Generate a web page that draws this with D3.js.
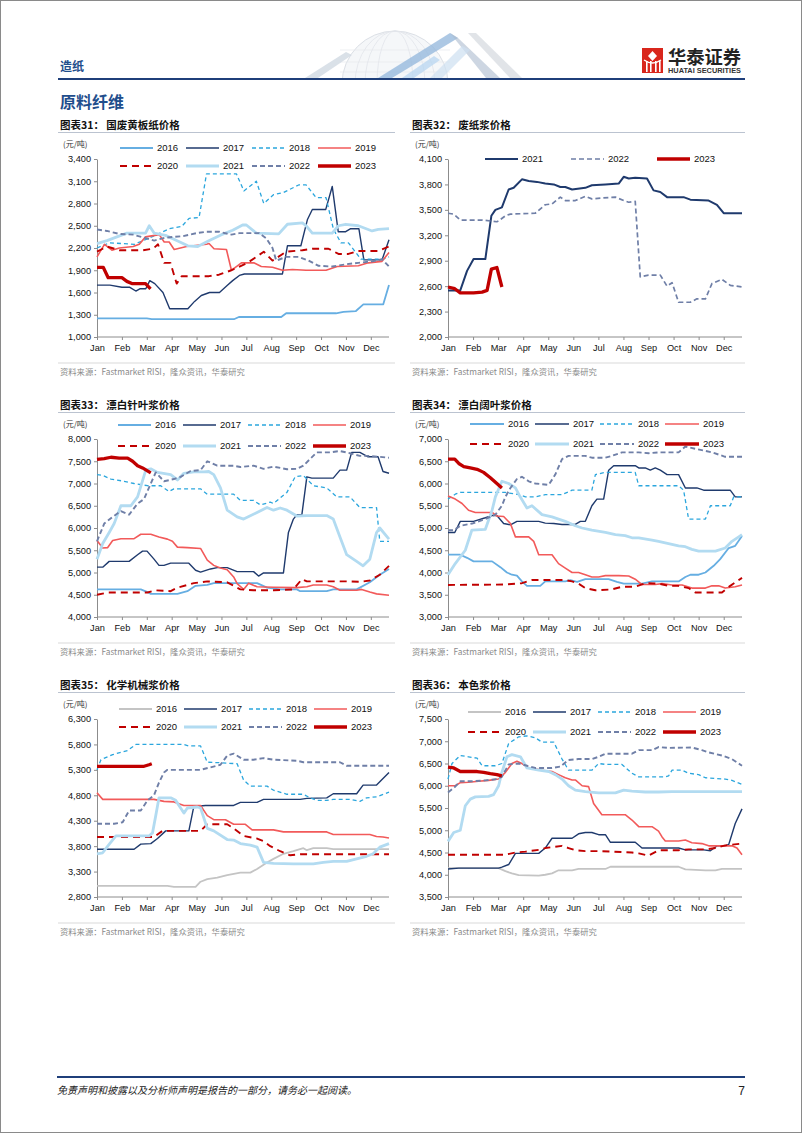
<!DOCTYPE html>
<html><head><meta charset="utf-8">
<script src="https://cdn.jsdelivr.net/npm/d3@7"></script>
<style>body{margin:0;background:#fff}svg{display:block}</style>
</head><body>
<svg id="page" width="802" height="1133"></svg>
<script>
// ---------------- DATA ----------------
const months = ["Jan","Feb","Mar","Apr","May","Jun","Jul","Aug","Sep","Oct","Nov","Dec"];
const years8 = ["2016","2017","2018","2019","2020","2021","2022","2023"];
const years3 = ["2021","2022","2023"];
const ticks31 = [1000,1300,1600,1900,2200,2500,2800,3100,3400];
const ticks32 = [2000,2300,2600,2900,3200,3500,3800,4100];
const ticks33 = [4000,4500,5000,5500,6000,6500,7000,7500,8000];
const ticks34 = [3000,3500,4000,4500,5000,5500,6000,6500,7000];
const ticks35 = [2800,3300,3800,4300,4800,5300,5800,6300];
const ticks36 = [3500,4000,4500,5000,5500,6000,6500,7000,7500];

// x = month position (0 = Jan), y = price (元/吨)
// 图表31 国废黄板纸
const c31_2016 = [[0,1250],[2,1250],[2.2,1240],[5.5,1240],[5.7,1270],[7.4,1270],[7.6,1320],[9.6,1320],[9.9,1340],[10.4,1350],[10.7,1440],[11.5,1440],[11.73,1700]];
const c31_2017 = [[0,1700],[0.52,1700],[1,1670],[1.32,1670],[1.56,1620],[1.72,1650],[1.96,1650],[2.12,1760],[2.32,1720],[2.65,1600],[2.92,1380],[3.65,1380],[3.92,1480],[4.19,1560],[4.52,1600],[4.92,1600],[5.25,1700],[5.45,1760],[5.72,1830],[5.92,1850],[7.45,1850],[7.65,2230],[8.19,2230],[8.45,2580],[8.65,2720],[9.19,2720],[9.45,3030],[9.69,2420],[9.99,2420],[10.19,2460],[10.52,2460],[10.72,2040],[11.45,2040],[11.73,2310]];
const c31_2018 = [[0,2200],[0.5,2270],[1.5,2250],[2,2320],[2.4,2380],[2.9,2460],[3.4,2490],[3.7,2600],[4.1,2610],[4.4,3200],[5.6,3200],[5.9,2970],[6.4,3100],[6.7,2800],[7.1,2920],[7.5,2950],[8.1,3050],[8.4,3050],[8.8,2880],[9.2,2880],[9.5,2450],[9.8,2270],[10.1,2270],[10.6,2050],[11.5,2050],[11.73,2080]];
const c31_2019 = [[0,2080],[0.3,2250],[0.6,2170],[0.9,2200],[1.45,2220],[1.7,2250],[1.95,2350],[2.5,2380],[2.7,2280],[2.9,2280],[3.1,2180],[3.6,2220],[4.4,2250],[4.5,2260],[4.7,2190],[5.2,2180],[5.4,1900],[5.6,1950],[5.8,2000],[6.3,2000],[6.6,1950],[7.05,1940],[7.45,1900],[7.85,1910],[8.4,1900],[9.2,1900],[9.65,1950],[10.5,1960],[10.9,2000],[11.45,2020],[11.73,2140]];
const c31_2020 = [[0,2150],[0.4,2220],[0.9,2170],[1.85,2170],[2.25,2190],[2.45,2250],[2.7,2000],[2.95,2000],[3.2,1720],[3.4,1820],[4.5,1820],[4.9,1840],[5.4,1900],[6.05,2000],[6.7,2150],[7.05,2030],[7.6,2150],[8.25,2170],[8.65,2190],[9.3,2190],[9.7,2120],[10.1,2120],[10.5,2160],[11.3,2160],[11.73,2220]];
const c31_2021 = [[0,2260],[0.4,2300],[1.2,2400],[1.95,2400],[2.1,2500],[2.3,2400],[2.75,2370],[3.2,2300],[3.65,2230],[4.05,2220],[4.45,2290],[5,2380],[5.45,2440],[5.85,2510],[6.0,2510],[6.4,2400],[7.3,2390],[7.65,2520],[8.25,2540],[8.4,2500],[8.65,2400],[9.45,2400],[9.7,2500],[9.99,2520],[10.5,2500],[11.05,2430],[11.3,2450],[11.73,2460]];
const c31_2022 = [[0,2450],[0.4,2430],[0.9,2390],[1.45,2380],[2,2330],[2.3,2300],[2.75,2340],[3.45,2360],[3.99,2400],[4.4,2420],[4.9,2420],[5.4,2380],[5.72,2400],[6.52,2400],[6.8,2330],[7.05,2200],[7.2,2030],[7.6,2080],[8.1,2080],[8.5,2030],[8.9,1960],[9.45,1950],[9.99,1980],[10.5,2000],[11.05,2020],[11.45,2050],[11.73,1950]];
const c31_2023 = [[0,1940],[0.25,1940],[0.45,1800],[1.0,1800],[1.2,1750],[1.4,1720],[1.95,1720],[2.15,1650]];

// 图表32 废纸浆
const c32_2021 = [[0,2550],[0.49,2550],[0.76,2780],[1.02,2920],[1.49,2920],[1.73,3430],[1.89,3500],[2.15,3530],[2.42,3740],[2.62,3760],[2.95,3860],[3.22,3840],[3.55,3830],[3.88,3810],[4.22,3800],[4.48,3770],[4.68,3770],[4.95,3740],[5.48,3760],[5.74,3790],[6.28,3800],[6.81,3810],[7.01,3890],[7.21,3870],[7.47,3880],[7.94,3870],[8.2,3730],[8.47,3710],[8.74,3650],[9.4,3650],[9.67,3620],[10.4,3610],[10.73,3560],[11,3460],[11.73,3460]];
const c32_2022 = [[0,3460],[0.23,3450],[0.49,3380],[1.36,3380],[1.95,3360],[2.02,3370],[2.29,3430],[2.49,3450],[3.48,3460],[3.88,3560],[4.15,3570],[4.48,3650],[4.68,3610],[5.08,3610],[5.48,3660],[5.74,3630],[6.14,3640],[6.68,3650],[7.01,3610],[7.21,3590],[7.47,3600],[7.67,2710],[8.0,2730],[8.47,2730],[8.74,2600],[8.94,2640],[9.2,2410],[9.67,2410],[9.93,2450],[10.27,2450],[10.53,2630],[10.93,2680],[11.26,2610],[11.73,2590]];
const c32_2023 = [[0,2590],[0.27,2570],[0.49,2520],[1.02,2520],[1.36,2530],[1.56,2550],[1.73,2800],[1.95,2820],[2.15,2590]];

// 图表33 漂白针叶浆
const c33_2016 = [[0,4620],[1.76,4620],[2.03,4560],[2.16,4520],[3.23,4520],[3.63,4580],[3.96,4700],[4.43,4720],[4.69,4760],[6.43,4760],[6.83,4660],[7.36,4620],[8.03,4620],[8.16,4580],[9.23,4580],[9.49,4620],[10.43,4620],[10.96,4780],[11.36,4950],[11.73,5080]];
const c33_2017 = [[0,5120],[0.23,5120],[0.49,5250],[1.29,5250],[1.63,5400],[1.83,5480],[2.01,5480],[2.29,5300],[2.49,5160],[2.69,5160],[2.96,5210],[3.69,5210],[3.96,5050],[4.16,5010],[4.56,5080],[4.83,5110],[5.23,5110],[5.63,5020],[6.29,5020],[6.49,4920],[6.69,4990],[7.49,4990],[7.69,5900],[7.89,6200],[8.03,6300],[8.23,6300],[8.43,7150],[8.63,7120],[9.49,7120],[9.76,7300],[10.03,7300],[10.23,7700],[10.56,7700],[10.89,7600],[11.29,7600],[11.49,7270],[11.73,7230]];
const c33_2018 = [[0,7200],[0.23,7180],[0.56,7100],[1.09,7050],[1.49,7000],[2.03,6950],[2.56,6950],[2.89,6820],[3.09,6880],[4.16,6880],[4.43,6760],[5.49,6760],[5.76,6620],[6.29,6620],[6.56,6520],[6.96,6580],[7.09,6550],[7.63,6800],[7.96,7150],[8.29,7180],[8.43,7100],[8.69,6950],[9.23,6900],[9.63,6700],[10.16,6700],[10.56,6460],[11.23,6460],[11.36,5700],[11.73,5700]];
const c33_2019 = [[0,5720],[0.23,5550],[0.43,5560],[0.63,5720],[0.96,5760],[1.49,5760],[1.76,5860],[2.16,5860],[2.49,5800],[2.83,5750],[3.03,5700],[3.23,5570],[3.63,5560],[4.16,5540],[4.43,5280],[4.69,5160],[4.96,5100],[5.23,5060],[5.49,4900],[5.63,4750],[5.89,4620],[6.09,4760],[6.43,4680],[7.09,4670],[8.03,4660],[8.43,4680],[8.69,4720],[9.23,4720],[9.49,4680],[9.76,4600],[10.43,4600],[10.63,4620],[10.96,4560],[11.23,4520],[11.73,4490]];
const c33_2020 = [[0,4500],[0.43,4550],[2.03,4550],[2.36,4600],[2.96,4580],[3.23,4660],[3.63,4720],[3.89,4760],[4.43,4800],[5.23,4780],[5.76,4620],[6.29,4600],[7.09,4600],[7.89,4620],[8.23,4850],[8.43,4800],[9.49,4800],[10.03,4800],[10.56,4790],[10.96,4820],[11.36,4950],[11.73,5150]];
const c33_2021 = [[0,5300],[0.23,5650],[0.49,5900],[0.69,6100],[0.96,6500],[1.36,6500],[1.63,6700],[1.96,7300],[2.16,7330],[2.43,7250],[2.96,7200],[3.23,7080],[3.49,7230],[3.89,7260],[4.29,7260],[4.49,7270],[4.69,7200],[4.96,6900],[5.23,6400],[5.63,6250],[5.89,6200],[6.43,6350],[6.83,6460],[7.09,6400],[7.36,6450],[7.63,6400],[8.03,6270],[8.43,6280],[9.23,6280],[9.49,6200],[9.76,5800],[10.03,5400],[10.43,5250],[10.69,5150],[10.96,5300],[11.23,5900],[11.36,6000],[11.73,5750]];
const c33_2022 = [[0,5700],[0.29,6100],[0.63,6250],[0.96,6380],[1.29,6300],[1.63,6550],[1.89,6650],[2.16,7000],[2.36,7250],[2.69,7050],[3.09,7100],[3.36,7150],[3.76,7280],[4.16,7300],[4.43,7500],[4.83,7400],[5.49,7400],[5.76,7370],[6.29,7400],[6.69,7330],[7.09,7380],[7.63,7320],[8.03,7330],[8.29,7400],[8.83,7700],[9.36,7700],[9.76,7730],[10.16,7680],[10.56,7620],[10.96,7620],[11.73,7580]];
const c33_2023 = [[0,7540],[0.29,7560],[0.56,7590],[0.89,7570],[1.23,7570],[1.43,7500],[1.63,7400],[1.83,7350],[2.16,7240]];

// 图表34 漂白阔叶浆
const c34_2016 = [[0,4400],[0.49,4400],[0.76,4330],[1.02,4250],[1.76,4250],[2.09,4120],[2.35,4000],[2.55,3950],[2.75,3930],[2.95,3800],[3.15,3700],[3.68,3700],[3.88,3800],[4.68,3800],[4.88,3830],[5.15,3790],[5.48,3850],[6.41,3850],[6.74,3790],[7.01,3750],[7.74,3750],[8.14,3800],[9.2,3800],[9.47,3900],[9.67,3950],[10.0,3950],[10.27,4000],[10.6,4150],[10.86,4300],[11.2,4550],[11.46,4600],[11.73,4820]];
const c34_2017 = [[0,4900],[0.27,4900],[0.49,5150],[1.02,5150],[1.49,5230],[1.76,5280],[1.95,5280],[2.22,5100],[2.49,5070],[2.75,5150],[3.62,5150],[3.88,5110],[4.22,5100],[4.55,5080],[5.08,5080],[5.28,5150],[5.48,5150],[5.74,5500],[5.94,5650],[6.21,5650],[6.41,6300],[6.61,6400],[7.47,6400],[7.61,6350],[7.87,6350],[8.07,6300],[8.27,6350],[8.47,6300],[8.74,6200],[9.2,6200],[9.47,5900],[9.93,5900],[10.2,5850],[11.26,5850],[11.46,5700],[11.73,5700]];
const c34_2018 = [[0,5650],[0.29,5760],[0.49,5800],[2.29,5800],[2.82,5750],[3.09,5700],[3.48,5700],[3.88,5750],[4.55,5750],[4.95,5850],[5.74,5850],[5.88,6200],[6.28,6250],[7.47,6250],[7.61,5950],[9.2,5950],[9.4,5850],[9.6,5200],[10.27,5200],[10.47,5500],[11.26,5500],[11.4,5700],[11.73,5700]];
const c34_2019 = [[0,5720],[0.29,5650],[0.56,5550],[0.82,5400],[1.09,5350],[1.76,5350],[1.95,5270],[2.22,5260],[2.49,5100],[2.69,4800],[3.22,4800],[3.42,4700],[3.62,4400],[4.15,4400],[4.41,4200],[4.68,4100],[4.95,4000],[5.21,4000],[5.48,3950],[5.74,3900],[6.01,3900],[6.28,3930],[6.81,3930],[7.21,3920],[7.47,3850],[7.74,3730],[8.27,3730],[8.54,3750],[8.94,3720],[9.34,3720],[9.73,3650],[10.27,3650],[10.53,3700],[10.8,3700],[11.06,3650],[11.46,3680],[11.73,3720]];
const c34_2020 = [[0,3720],[2.29,3730],[2.95,3760],[3.35,3830],[4.68,3830],[4.95,3800],[5.21,3750],[5.48,3650],[5.88,3600],[6.54,3620],[6.94,3680],[7.47,3680],[7.87,3760],[8.4,3750],[8.8,3700],[9.2,3700],[9.6,3650],[9.87,3550],[10.93,3550],[11.26,3700],[11.73,3880]];
const c34_2021 = [[0,3950],[0.29,4200],[0.69,4500],[0.95,4950],[1.49,4970],[1.76,5400],[1.89,5700],[2.15,6050],[2.42,6000],[2.69,5900],[2.88,5700],[3.15,5450],[3.35,5500],[3.75,5300],[4.15,5250],[4.41,5200],[4.68,5150],[5.08,5050],[5.35,5000],[5.74,4950],[6.28,4900],[6.68,4850],[7.07,4830],[7.34,4780],[7.61,4780],[8.14,4730],[8.4,4700],[8.8,4650],[9.2,4600],[9.47,4580],[9.73,4520],[10.0,4480],[10.67,4480],[11.06,4550],[11.33,4700],[11.6,4800],[11.73,4850]];
const c34_2022 = [[0,4950],[0.23,4950],[0.49,5050],[0.96,5100],[1.49,5200],[1.89,5300],[2.15,5500],[2.29,5700],[2.49,5900],[2.75,6100],[2.95,6150],[3.22,6050],[3.48,6000],[4.02,5970],[4.28,6200],[4.55,6550],[4.81,6620],[5.48,6620],[5.74,6580],[6.28,6580],[6.54,6620],[6.94,6700],[7.61,6700],[8.01,6680],[8.4,6700],[9.2,6700],[9.47,6830],[9.87,6780],[10.53,6700],[11.06,6600],[11.73,6600]];
const c34_2023 = [[0,6550],[0.27,6550],[0.43,6450],[0.63,6380],[0.89,6350],[1.16,6320],[1.42,6250],[1.69,6130],[1.95,6000],[2.15,5900]];

// 图表35 化学机械浆
const c35_2016 = [[0,3020],[2.83,3020],[3.09,3000],[3.96,3000],[4.16,3100],[4.43,3150],[4.83,3180],[5.23,3230],[5.76,3280],[6.16,3280],[6.43,3350],[6.83,3480],[7.09,3550],[7.49,3650],[7.89,3700],[8.29,3760],[8.43,3720],[8.69,3760],[9.23,3760],[9.49,3740],[11.73,3740]];
const c35_2017 = [[0,3740],[1.49,3740],[1.76,3840],[2.16,3850],[2.43,3950],[2.76,4100],[3.69,4100],[3.89,4580],[4.36,4600],[5.49,4600],[5.76,4660],[6.43,4660],[6.69,4720],[8.16,4720],[8.43,4740],[9.23,4750],[9.49,4830],[10.43,4830],[10.69,5000],[11.23,5000],[11.73,5250]];
const c35_2018 = [[0,5300],[0.16,5500],[0.63,5600],[1.23,5680],[1.56,5800],[3.49,5800],[3.69,5770],[4.16,5770],[4.43,5450],[4.96,5440],[5.63,5420],[5.89,5100],[6.16,4980],[6.83,4980],[7.09,4900],[7.63,4820],[8.29,4820],[8.56,4750],[8.83,4700],[9.23,4700],[9.49,4720],[10.16,4720],[10.56,4680],[10.83,4750],[11.23,4770],[11.73,4860]];
const c35_2019 = [[0,4850],[0.23,4720],[2.29,4720],[2.69,4680],[3.09,4670],[3.49,4600],[4.16,4600],[4.43,4400],[4.69,4320],[5.16,4320],[5.49,4230],[5.96,4230],[6.23,4120],[7.09,4120],[7.49,4080],[9.23,4080],[9.49,4030],[10.96,4030],[11.23,3990],[11.49,3980],[11.73,3960]];
const c35_2020 = [[0,3980],[2.29,3980],[2.63,4100],[4.16,4100],[4.43,4230],[5.23,4230],[5.49,4150],[5.89,4000],[6.43,3950],[6.69,3900],[6.96,3800],[7.36,3700],[7.76,3620],[8.16,3640],[11.73,3640]];
const c35_2021 = [[0,3650],[0.23,3670],[0.43,3800],[0.76,4000],[2.09,4000],[2.23,4060],[2.36,4400],[2.49,4750],[2.96,4750],[3.16,4700],[3.36,4550],[3.49,4450],[3.63,4550],[4.03,4570],[4.16,4550],[4.43,4150],[4.69,4100],[5.23,3930],[5.49,3920],[5.76,3850],[6.16,3820],[6.43,3780],[6.69,3480],[7.09,3460],[7.89,3450],[8.69,3450],[9.09,3480],[9.49,3500],[10.03,3500],[10.43,3550],[10.83,3600],[11.09,3650],[11.36,3780],[11.73,3850]];
const c35_2022 = [[0,4240],[0.69,4240],[1.03,4270],[1.29,4500],[1.76,4500],[2.03,4700],[2.29,4800],[2.49,5050],[2.69,5250],[2.83,5300],[4.16,5300],[4.56,5350],[4.96,5400],[5.23,5580],[5.49,5620],[5.89,5500],[6.29,5500],[6.69,5530],[7.09,5500],[8.03,5480],[8.29,5450],[9.76,5450],[10.03,5380],[11.73,5380]];
const c35_2023 = [[0,5370],[1.89,5370],[2.09,5400],[2.2,5420]];

// 图表36 本色浆
const c36_2016 = [[0,4150],[2.02,4150],[2.29,4080],[2.55,4030],[2.82,3990],[3.62,3980],[3.88,4000],[4.15,4030],[4.41,4100],[4.95,4100],[5.21,4130],[6.28,4130],[6.48,4180],[9.2,4180],[9.47,4120],[10.27,4100],[10.67,4100],[10.93,4130],[11.73,4130]];
const c36_2017 = [[0,4130],[0.43,4150],[2.02,4150],[2.15,4170],[2.42,4230],[2.69,4480],[3.62,4480],[3.88,4600],[4.15,4820],[4.95,4820],[5.21,4920],[5.48,4950],[5.74,4950],[6.01,4900],[6.28,4900],[6.48,4730],[7.47,4730],[7.74,4600],[9.2,4600],[9.47,4560],[10.2,4560],[10.47,4540],[10.73,4650],[11.06,4650],[11.2,4680],[11.46,5150],[11.73,5480]];
const c36_2018 = [[0,6150],[0.16,6500],[0.49,6680],[0.82,6650],[1.16,6620],[1.36,6450],[1.89,6450],[2.15,6500],[2.42,6950],[2.82,7100],[3.15,7120],[3.48,7080],[3.75,6980],[4.22,6980],[4.55,6600],[4.81,6350],[5.74,6350],[6.01,6500],[6.28,6480],[6.94,6480],[7.34,6280],[7.61,6200],[8.67,6200],[8.8,6220],[8.94,6350],[9.34,6350],[9.6,6280],[10.0,6250],[10.27,6180],[11.06,6150],[11.33,6120],[11.73,6030]];
const c36_2019 = [[0,6000],[0.29,6000],[0.49,6070],[0.82,6080],[1.22,6100],[1.62,6120],[2.02,6150],[2.29,6300],[2.55,6500],[2.75,6550],[2.95,6500],[3.22,6400],[3.48,6380],[3.75,6350],[4.15,6320],[4.41,6250],[4.68,6180],[4.95,6130],[5.08,6130],[5.35,6000],[5.61,5980],[5.81,5600],[6.14,5350],[7.07,5350],[7.34,5230],[7.61,5080],[8.14,5080],[8.4,4980],[8.54,4850],[8.67,4760],[9.2,4760],[9.47,4780],[9.73,4720],[10.13,4700],[10.4,4650],[11.33,4650],[11.53,4600],[11.73,4450]];
const c36_2020 = [[0,4450],[2.29,4450],[2.69,4500],[3.09,4520],[3.62,4560],[3.88,4600],[4.55,4650],[4.81,4600],[5.08,4550],[5.48,4530],[6.01,4530],[6.54,4520],[7.34,4500],[7.61,4480],[8.0,4430],[8.4,4550],[9.2,4550],[9.6,4570],[10.27,4570],[10.67,4600],[11.06,4660],[11.73,4700]];
const c36_2021 = [[0,4750],[0.23,4950],[0.49,5000],[0.69,5550],[0.89,5700],[1.09,5750],[1.62,5760],[1.82,5800],[2.02,6000],[2.15,6300],[2.35,6650],[2.55,6700],[2.89,6650],[3.15,6400],[3.62,6350],[4.02,6320],[4.28,6250],[4.55,6150],[4.81,6000],[5.08,5900],[5.48,5870],[6.01,5840],[6.68,5840],[7.01,5900],[7.34,5880],[7.87,5860],[8.4,5860],[8.94,5870],[11.73,5870]];
const c36_2022 = [[0,5850],[0.23,5950],[0.49,6100],[0.96,6100],[1.49,6120],[1.95,6150],[2.15,6200],[2.42,6480],[2.82,6500],[3.15,6450],[3.48,6400],[4.15,6400],[4.48,6430],[4.81,6580],[5.21,6600],[5.74,6600],[6.01,6650],[6.28,6720],[7.34,6720],[7.61,6800],[8.14,6800],[8.4,6870],[8.8,6850],[9.73,6860],[10.13,6800],[10.4,6750],[10.93,6680],[11.33,6600],[11.73,6450]];
const c36_2023 = [[0,6420],[0.23,6400],[0.49,6320],[1.16,6320],[1.42,6300],[1.69,6270],[1.95,6250],[2.15,6220]];

// ---------------- STYLES ----------------
const S = {
  "2016": {color:"#66aee2", w:1.8},
  "2016g":{color:"#c4c4c4", w:1.8},
  "2017": {color:"#1f3a6d", w:1.4},
  "2018": {color:"#2ba6dd", w:1.3, dash:"4,3"},
  "2019": {color:"#f25a5a", w:1.6},
  "2020": {color:"#c00000", w:1.9, dash:"7,5"},
  "2021": {color:"#b2dbf1", w:2.8},
  "2022": {color:"#6f7fa7", w:1.9, dash:"5,3"},
  "2023": {color:"#c00000", w:3.3}
};
const S32 = {
  "2021": {color:"#1f3a6d", w:2.0},
  "2022": {color:"#6f7fa7", w:1.7, dash:"5,3"},
  "2023": {color:"#c00000", w:3.3}
};

const NUM = "'Liberation Sans', Arial, sans-serif";
const CJK = "'Noto Sans CJK SC', 'Noto Sans', sans-serif";
const svg = d3.select("#page");
const src = "资料来源：Fastmarket RISI，隆众资讯，华泰研究";

// ---------------- PAGE FRAME ----------------
svg.append("rect").attr("x",0.5).attr("y",0.5).attr("width",801).attr("height",1132)
  .attr("fill","#fff").attr("stroke","#8a8a8a");

// watermark
const wm = svg.append("g").attr("opacity",0.85);
const defs = svg.append("defs");
defs.append("clipPath").attr("id","wmclip").append("rect").attr("x",290).attr("y",20).attr("width",260).attr("height",58);
const wg = wm.append("g").attr("clip-path","url(#wmclip)");
wg.append("circle").attr("cx",395).attr("cy",84).attr("r",53).attr("fill","#f4f6f9").attr("stroke","#d6dbe2").attr("stroke-width",1);
[40,30,18].forEach(rx=>wg.append("ellipse").attr("cx",395).attr("cy",84).attr("rx",rx).attr("ry",53).attr("fill","none").attr("stroke","#dde1e7").attr("stroke-width",0.8));
[50,62,72].forEach(yy=>wg.append("line").attr("x1",340).attr("x2",450).attr("y1",yy).attr("y2",yy).attr("stroke","#e2e5ea").attr("stroke-width",0.7));
const strip=(pts,col,op)=>wg.append("polygon").attr("points",pts.map(p=>p.join(",")).join(" ")).attr("fill",col).attr("opacity",op);
strip([[305,78],[318,78],[352,55],[346,52]],"#c9d3de",0.8);
strip([[378,78],[392,78],[458,38],[450,33]],"#7fa9d6",0.75);
strip([[402,78],[414,78],[440,60],[434,56]],"#a8cdee",0.7);
strip([[450,33],[458,38],[500,78],[486,78]],"#9fb0c6",0.6);
strip([[468,33],[476,33],[522,78],[510,78]],"#d3d8df",0.8);
strip([[430,78],[442,78],[470,50],[462,46]],"#c6dcf0",0.7);

// header
svg.append("text").attr("x",60).attr("y",71).text("造纸").attr("font-family",CJK).attr("font-size",12).attr("font-weight","bold").attr("fill","#1f4e8c");
svg.append("line").attr("x1",58).attr("x2",745).attr("y1",79).attr("y2",79).attr("stroke","#1f3f7a").attr("stroke-width",2);
svg.append("text").attr("x",60).attr("y",108).text("原料纤维").attr("font-family",CJK).attr("font-size",16).attr("font-weight","bold").attr("fill","#1f4e8c");
// logo
const lg = svg.append("g");
lg.append("rect").attr("x",642).attr("y",48).attr("width",21).attr("height",25).attr("fill","#d9261c");
lg.append("path").attr("d","M652.5,51 L657,56 L652.5,61 L648,56 Z").attr("fill","#fff");
[646,650,655,659].forEach(x=>lg.append("rect").attr("x",x).attr("y",61).attr("width",1.6).attr("height",11).attr("fill","#fff"));
lg.append("path").attr("d","M644,60 Q652.5,66 661,60").attr("fill","none").attr("stroke","#fff").attr("stroke-width",1.4);
lg.append("text").attr("x",668).attr("y",64).text("华泰证券").attr("font-family",CJK).attr("font-size",18).attr("font-weight","bold").attr("fill","#222").attr("textLength",73).attr("lengthAdjust","spacingAndGlyphs");
lg.append("text").attr("x",668).attr("y",73).text("HUATAI SECURITIES").attr("font-family",NUM).attr("font-size",6.8).attr("font-weight","bold").attr("fill","#333").attr("textLength",73).attr("lengthAdjust","spacingAndGlyphs");

// footer
svg.append("line").attr("x1",57).attr("x2",745).attr("y1",1077).attr("y2",1077).attr("stroke","#1f3f7a").attr("stroke-width",2);
svg.append("text").attr("x",57).attr("y",1094).text("免责声明和披露以及分析师声明是报告的一部分，请务必一起阅读。").attr("font-family",CJK).attr("font-size",10).attr("font-style","italic").attr("fill","#222").attr("transform","skewX(0)");
svg.append("text").attr("x",745).attr("y",1095).attr("text-anchor","end").text("7").attr("font-family",NUM).attr("font-size",12).attr("fill","#222");

// ---------------- CHART BUILDER ----------------
function drawChart(cfg){
  const g = svg.append("g");
  const tc = cfg.tc;
  g.append("text").attr("x",cfg.cx1+2).attr("y",tc+4).text(cfg.title)
    .attr("font-family",CJK).attr("font-size",10.5).attr("font-weight","bold").attr("fill","#111");
  g.append("line").attr("x1",cfg.cx1).attr("x2",cfg.cx2).attr("y1",tc+7.5).attr("y2",tc+7.5).attr("stroke","#aab4c4").attr("stroke-width",0.8);
  g.append("text").attr("x",cfg.cx1+5).attr("y",tc+22).text("(元/吨)").attr("font-family",CJK).attr("font-size",8).attr("fill","#333");

  const x = d3.scaleLinear().domain([0,11.73]).range([cfg.px0,cfg.px1]);
  const y = d3.scaleLinear().domain([cfg.ticks[0],cfg.ticks[cfg.ticks.length-1]]).range([tc+212,tc+34]);

  const ya = g.append("g").attr("transform",`translate(${cfg.px0},0)`)
    .call(d3.axisLeft(y).tickValues(cfg.ticks).tickFormat(d3.format(",")).tickSize(3).tickSizeOuter(0).tickPadding(3));
  const xa = g.append("g").attr("transform",`translate(0,${tc+212})`)
    .call(d3.axisBottom(x).tickValues(d3.range(12)).tickFormat(i=>months[i]).tickSize(3).tickSizeOuter(0).tickPadding(4));
  [ya,xa].forEach(a=>{
    a.selectAll("path,line").attr("stroke","#8c8c8c");
    a.selectAll("text").attr("font-family",NUM).attr("font-size",9.2).attr("fill","#111");
  });
  xa.select(".domain").attr("d",`M${cfg.px0},0H${cfg.px1}`);

  const line = d3.line().x(d=>x(d[0])).y(d=>y(d[1]));
  cfg.series.forEach(s=>{
    const st = cfg.styles[s.style||s.name];
    g.append("path").datum(s.data).attr("d",line).attr("fill","none")
      .attr("stroke",st.color).attr("stroke-width",st.w).attr("stroke-dasharray",st.dash||null)
      .attr("stroke-linejoin","round");
  });

  // legend
  cfg.series.forEach((s,i)=>{
    const st = cfg.styles[s.style||s.name];
    const col = i % cfg.legCols, row = Math.floor(i / cfg.legCols);
    const lx = cfg.legX + col*cfg.legStep, ly = cfg.legY[row];
    g.append("line").attr("x1",lx).attr("x2",lx+cfg.legLen).attr("y1",ly).attr("y2",ly)
      .attr("stroke",st.color).attr("stroke-width",st.w).attr("stroke-dasharray",st.dash||null);
    g.append("text").attr("x",lx+cfg.legLen+4).attr("y",ly+3.3).text(s.name)
      .attr("font-family",NUM).attr("font-size",9.5).attr("fill","#111");
  });

  g.append("line").attr("x1",cfg.cx1).attr("x2",cfg.cx2).attr("y1",tc+238).attr("y2",tc+238).attr("stroke","#c8c8c8").attr("stroke-width",0.7);
  g.append("text").attr("x",cfg.cx1+2).attr("y",tc+250).text(src).attr("font-family",CJK).attr("font-size",8.3).attr("fill","#8a8a8a");
}

const L = {cx1:58, cx2:395, px0:97, px1:389};
const R = {cx1:410, cx2:745, px0:448, px1:742};
const mk = (arr, names, gray) => names.map((n,i)=>({name:n, data:arr[i], style:(gray && n==="2016")?"2016g":n}));

drawChart(Object.assign({}, L, {tc:125, title:"图表31：  国废黄板纸价格", ticks:ticks31, styles:S,
  series: mk([c31_2016,c31_2017,c31_2018,c31_2019,c31_2020,c31_2021,c31_2022,c31_2023], years8),
  legX:120, legStep:66, legLen:33, legCols:4, legY:[148,166]}));
drawChart(Object.assign({}, R, {tc:125, title:"图表32：  废纸浆价格", ticks:ticks32, styles:S32,
  series: mk([c32_2021,c32_2022,c32_2023], years3),
  legX:485, legStep:86, legLen:33, legCols:3, legY:[159]}));
drawChart(Object.assign({}, L, {tc:405, title:"图表33：  漂白针叶浆价格", ticks:ticks33, styles:S,
  series: mk([c33_2016,c33_2017,c33_2018,c33_2019,c33_2020,c33_2021,c33_2022,c33_2023], years8),
  legX:118, legStep:65, legLen:33, legCols:4, legY:[425,446]}));
drawChart(Object.assign({}, R, {tc:405, title:"图表34：  漂白阔叶浆价格", ticks:ticks34, styles:S,
  series: mk([c34_2016,c34_2017,c34_2018,c34_2019,c34_2020,c34_2021,c34_2022,c34_2023], years8),
  legX:470, legStep:65, legLen:34, legCols:4, legY:[424,444]}));
drawChart(Object.assign({}, L, {tc:685, title:"图表35：  化学机械浆价格", ticks:ticks35, styles:S,
  series: mk([c35_2016,c35_2017,c35_2018,c35_2019,c35_2020,c35_2021,c35_2022,c35_2023], years8, true),
  legX:119, legStep:65, legLen:33, legCols:4, legY:[709,727]}));
drawChart(Object.assign({}, R, {tc:685, title:"图表36：  本色浆价格", ticks:ticks36, styles:S,
  series: mk([c36_2016,c36_2017,c36_2018,c36_2019,c36_2020,c36_2021,c36_2022,c36_2023], years8, true),
  legX:468, legStep:65, legLen:33, legCols:4, legY:[712,732]}));
</script>
</body></html>
